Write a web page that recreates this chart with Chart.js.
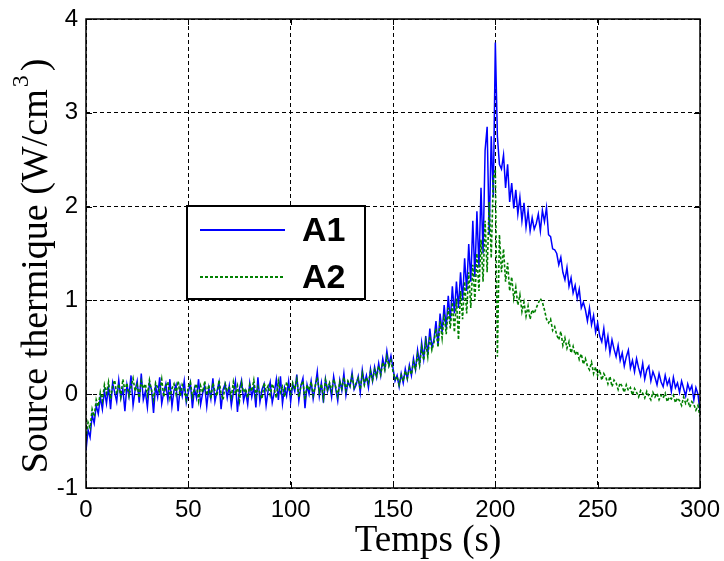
<!DOCTYPE html>
<html>
<head>
<meta charset="utf-8">
<script src="https://cdn.jsdelivr.net/npm/chart.js@4.4.0/dist/chart.umd.min.js"></script>
<style>
html, body { margin: 0; padding: 0; background: #fff; }
canvas { display: block; }
</style>
</head>
<body>
<canvas id="graph" width="724" height="561"></canvas>
<script>
// Source thermique A1 (bleu), une valeur par seconde, 0..300 s
const A1 = [
  -0.60,-0.38,-0.46,-0.22,-0.31,-0.12,-0.21,-0.03,-0.16,0.04,
  -0.10,0.08,-0.16,0.12,0.02,-0.08,0.15,-0.04,0.06,-0.18,
  0.10,-0.02,0.20,-0.12,0.04,0.14,-0.09,0.22,-0.06,0.03,
  -0.14,0.12,0.05,-0.20,0.09,-0.03,0.18,-0.10,0.02,0.11,
  -0.06,0.16,-0.13,0.04,0.10,-0.18,0.08,-0.02,0.14,-0.09,
  0.02,0.12,-0.15,0.06,-0.04,0.16,-0.11,0.01,0.09,-0.13,
  0.07,-0.05,0.17,-0.08,0.03,0.13,-0.16,0.05,0.11,-0.04,
  0.09,-0.12,0.02,0.14,-0.19,0.06,0.15,-0.07,0.03,-0.11,
  0.12,-0.03,0.08,-0.14,0.18,-0.08,0.05,0.11,-0.12,0.04,
  0.13,-0.09,0.02,0.16,-0.06,0.19,-0.10,0.07,-0.02,0.14,
  -0.08,0.11,0.03,0.21,-0.07,0.09,0.17,-0.15,0.10,0.00,
  0.14,-0.05,0.08,0.24,-0.02,0.12,-0.09,0.16,0.03,0.11,
  -0.03,0.19,0.06,-0.07,0.15,0.04,0.22,-0.01,0.13,0.08,
  0.23,0.05,0.10,0.19,0.02,0.26,0.11,0.20,0.07,0.27,
  0.14,0.29,0.18,0.33,0.20,0.38,0.27,0.46,0.31,0.41,
  0.28,0.14,0.20,0.08,0.22,0.12,0.27,0.16,0.31,0.20,
  0.38,0.26,0.47,0.32,0.55,0.38,0.62,0.42,0.70,0.50,
  0.58,0.78,0.52,0.86,0.66,0.95,0.70,1.05,0.78,1.15,
  0.86,1.20,0.92,1.30,1.00,1.45,1.10,1.60,1.20,1.85,
  1.25,1.95,1.35,2.20,1.50,2.60,2.85,1.70,2.75,2.10,
  3.75,2.75,2.45,2.40,2.55,2.20,2.45,2.05,2.25,1.98,
  2.18,1.92,2.10,1.85,2.04,1.78,1.95,1.74,1.88,1.76,
  1.82,1.92,1.74,1.96,1.84,1.99,1.70,1.68,1.55,1.54,
  1.50,1.38,1.46,1.30,1.22,1.35,1.15,1.24,1.08,1.16,
  1.02,1.12,0.92,0.98,0.90,0.78,0.92,0.74,0.84,0.66,
  0.76,0.62,0.56,0.70,0.50,0.62,0.44,0.58,0.48,0.40,
  0.52,0.36,0.44,0.30,0.40,0.47,0.28,0.36,0.24,0.38,
  0.28,0.20,0.33,0.16,0.26,0.30,0.14,0.24,0.18,0.10,
  0.22,0.13,0.08,0.20,0.10,0.16,0.03,0.18,0.07,0.12,
  0.02,0.14,0.06,-0.02,0.11,0.04,0.09,-0.06,0.07,0.00,
  -0.18
];

// Source thermique A2 (vert pointille)
const A2 = [
  -0.48,-0.30,-0.36,-0.16,-0.24,-0.06,-0.13,0.02,-0.07,0.10,
  0.01,0.13,-0.05,0.09,0.15,0.00,0.11,-0.03,0.16,0.04,
  0.12,-0.02,0.08,0.17,0.03,0.10,-0.04,0.14,0.06,0.11,
  -0.01,0.15,0.04,-0.06,0.12,0.07,0.02,0.16,-0.03,0.09,
  0.13,-0.04,0.06,0.11,0.00,0.14,-0.02,0.10,0.05,-0.06,
  0.08,0.13,-0.03,0.06,0.11,-0.07,0.09,0.02,0.14,-0.01,
  0.10,-0.05,0.12,0.03,-0.02,0.15,0.01,-0.06,0.11,0.04,
  0.07,-0.03,0.13,0.00,0.09,-0.07,0.12,0.02,0.06,-0.04,
  0.10,0.03,0.15,-0.02,0.08,0.01,-0.05,0.12,0.04,0.09,
  -0.01,0.11,0.05,-0.04,0.14,0.02,0.08,-0.03,0.13,0.06,
  0.00,0.12,0.05,0.16,-0.03,0.09,0.14,-0.06,0.10,0.04,
  0.13,-0.01,0.09,0.18,0.02,0.11,-0.04,0.15,0.05,0.12,
  0.03,0.16,0.08,-0.02,0.13,0.06,0.18,0.04,0.14,0.09,
  0.19,0.07,0.12,0.17,0.05,0.22,0.10,0.18,0.12,0.24,
  0.15,0.26,0.19,0.30,0.21,0.34,0.26,0.40,0.30,0.36,
  0.24,0.16,0.19,0.10,0.20,0.14,0.25,0.17,0.28,0.21,
  0.34,0.27,0.42,0.31,0.50,0.36,0.56,0.40,0.62,0.47,
  0.55,0.70,0.50,0.78,0.60,0.85,0.64,0.92,0.70,0.98,
  0.66,1.02,0.58,1.10,0.80,1.20,0.86,1.30,0.92,1.38,
  1.00,1.50,1.10,1.65,1.20,1.85,1.30,2.05,1.45,2.30,
  2.40,0.40,1.70,1.30,1.55,1.20,1.40,1.10,1.25,1.02,
  1.14,0.95,1.06,0.88,0.98,0.83,0.94,0.80,0.90,0.86,
  0.92,0.97,1.02,0.98,0.90,0.80,0.76,0.80,0.68,0.72,
  0.63,0.58,0.67,0.52,0.60,0.49,0.56,0.44,0.51,0.42,
  0.46,0.37,0.43,0.32,0.38,0.30,0.26,0.34,0.22,0.29,
  0.20,0.26,0.15,0.22,0.18,0.11,0.19,0.08,0.15,0.12,
  0.05,0.12,0.08,0.02,0.10,0.04,0.07,-0.01,0.06,0.02,
  -0.03,0.04,0.01,-0.04,0.03,-0.02,-0.06,0.02,-0.03,0.01,
  -0.06,-0.01,-0.04,0.01,-0.08,-0.03,-0.05,-0.01,-0.09,-0.04,
  -0.07,-0.12,-0.03,-0.10,-0.06,-0.14,-0.08,-0.11,-0.17,-0.12,
  -0.24
];

// temps en secondes (une mesure par seconde)
const temps = A1.map((v, i) => i);

const xMin = 0, xMax = 300, xStep = 50;
const yMin = -1, yMax = 4, yStep = 1;
const xTitle = "Temps (s)";
const yTitle = "Source thermique (W/cm";
const yTitleSup = "3";
const legendLabels = ["A1", "A2"];

function toPoints(values) {
    return values.map((v, i) => ({ x: temps[i], y: v }));
}

// cadre, petits tirets et titres facon matlab
const boxPlugin = {
    id: 'box',
    afterDatasetsDraw(chart) {
        const ctx = chart.ctx;
        const ca = chart.chartArea;
        const xs = chart.scales.x, ys = chart.scales.y;
        ctx.save();
        ctx.strokeStyle = '#000';
        ctx.lineWidth = 1;
        ctx.setLineDash([]);
        ctx.beginPath();
        for (const t of xs.ticks) {
            const px = Math.round(xs.getPixelForValue(t.value)) + 0.5;
            ctx.moveTo(px, ca.bottom); ctx.lineTo(px, ca.bottom - 6);
            ctx.moveTo(px, ca.top); ctx.lineTo(px, ca.top + 6);
        }
        for (const t of ys.ticks) {
            const py = Math.round(ys.getPixelForValue(t.value)) + 0.5;
            ctx.moveTo(ca.left, py); ctx.lineTo(ca.left + 6, py);
            ctx.moveTo(ca.right, py); ctx.lineTo(ca.right - 6, py);
        }
        ctx.stroke();
        ctx.lineWidth = 1.5;
        ctx.strokeRect(ca.left, ca.top, ca.right - ca.left, ca.bottom - ca.top);
        ctx.restore();
    },
    afterDraw(chart) {
        const ctx = chart.ctx;
        ctx.save();
        ctx.fillStyle = '#000';
        ctx.font = '37px "Liberation Serif", serif';
        ctx.textAlign = 'center';
        ctx.textBaseline = 'alphabetic';
        ctx.fillText(xTitle, 428, 551);

        // titre vertical avec exposant
        ctx.translate(47, 266);
        ctx.rotate(-Math.PI / 2);
        ctx.font = '38px "Liberation Serif", serif';
        const w1 = ctx.measureText(yTitle).width;
        ctx.font = '24px "Liberation Serif", serif';
        const w2 = ctx.measureText(yTitleSup).width;
        ctx.font = '38px "Liberation Serif", serif';
        const w3 = ctx.measureText(")").width;
        const total = w1 + w2 + 6 + w3;
        let x0 = -total / 2;
        ctx.textAlign = 'left';
        ctx.fillText(yTitle, x0, 0);
        ctx.font = '24px "Liberation Serif", serif';
        ctx.fillText(yTitleSup, x0 + w1 + 2, -19);
        ctx.font = '38px "Liberation Serif", serif';
        ctx.fillText(")", x0 + w1 + w2 + 6, 0);
        ctx.restore();
    }
};

// legende encadree dans le graphe
const legendPlugin = {
    id: 'legendBox',
    afterDatasetsDraw(chart) {
        const ctx = chart.ctx;
        const left = 187, top = 206, w = 178, h = 93;
        ctx.save();
        ctx.fillStyle = '#fff';
        ctx.fillRect(left, top, w, h);
        ctx.strokeStyle = '#000';
        ctx.lineWidth = 2;
        ctx.setLineDash([]);
        ctx.strokeRect(left, top, w, h);
        const rows = [230, 277];
        chart.data.datasets.forEach((ds, i) => {
            ctx.strokeStyle = ds.borderColor;
            ctx.lineWidth = 2;
            ctx.setLineDash(ds.borderDash || []);
            ctx.beginPath();
            ctx.moveTo(200, rows[i]);
            ctx.lineTo(285, rows[i]);
            ctx.stroke();
            ctx.setLineDash([]);
            ctx.fillStyle = '#000';
            ctx.font = 'bold 34px "Liberation Sans", Arial, sans-serif';
            ctx.textBaseline = 'middle';
            ctx.fillText(ds.label, 302, rows[i] + 2);
        });
        ctx.restore();
    }
};

const tickFont = { family: '"Liberation Sans", Arial, sans-serif', size: 24 };

var chart = new Chart("graph", {
    type: "line",
    data: {
        datasets: [
            {
                label: legendLabels[0],
                data: toPoints(A1),
                borderColor: "#0000ff",
                borderWidth: 1.5,
                pointRadius: 0,
                tension: 0,
                fill: false,
                order: 1
            },
            {
                label: legendLabels[1],
                data: toPoints(A2),
                borderColor: "#008000",
                borderWidth: 1.6,
                borderDash: [3, 2],
                pointRadius: 0,
                tension: 0,
                fill: false,
                order: 0
            }
        ]
    },
    options: {
        responsive: false,
        animation: false,
        devicePixelRatio: 1,
        layout: { padding: { left: 0, top: 19, right: 24, bottom: 0 } },
        plugins: {
            legend: { display: false },
            tooltip: { enabled: false }
        },
        scales: {
            x: {
                type: 'linear',
                min: xMin, max: xMax,
                ticks: { stepSize: xStep, color: '#000', font: tickFont, padding: 8, maxRotation: 0 },
                grid: { color: '#000', lineWidth: 1, drawTicks: false },
                border: { display: false, dash: [4, 3] },
                afterFit: s => { s.height = 73; s.paddingLeft = 0; s.paddingRight = 0; }
            },
            y: {
                min: yMin, max: yMax,
                ticks: { stepSize: yStep, color: '#000', font: tickFont, padding: 8 },
                grid: { color: '#000', lineWidth: 1, drawTicks: false },
                border: { display: false, dash: [4, 3] },
                afterFit: s => { s.width = 86; s.paddingTop = 0; s.paddingBottom = 0; }
            }
        }
    },
    plugins: [boxPlugin, legendPlugin]
});
</script>
</body>
</html>
